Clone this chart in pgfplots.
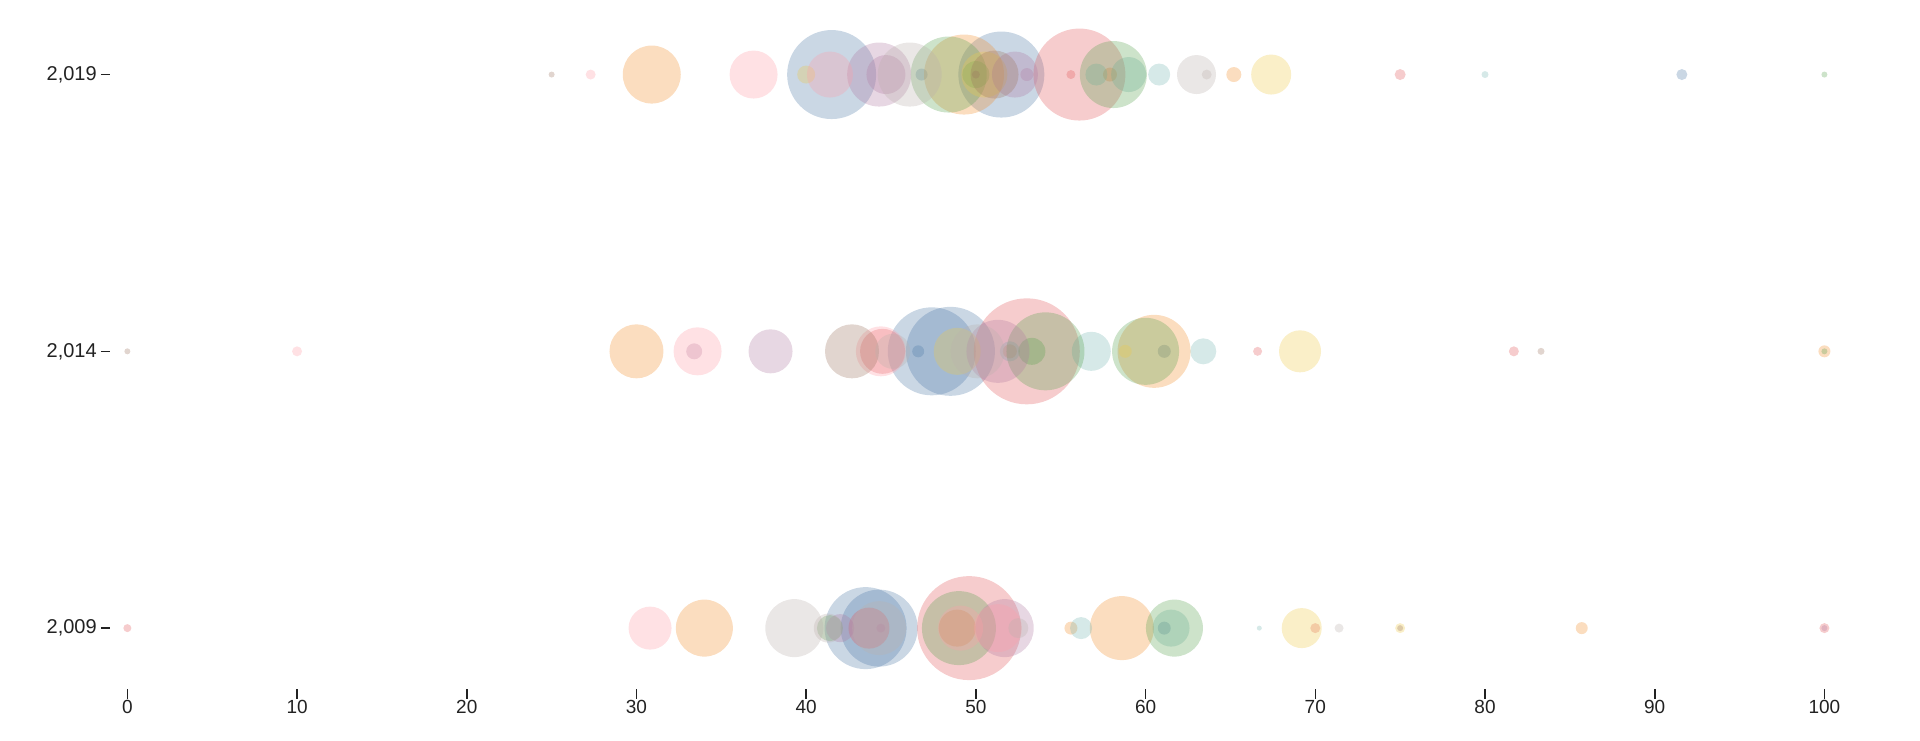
\documentclass[border=0pt]{standalone}
\usepackage{fontspec}
\setmainfont{Liberation Sans}
\usepackage{pgfplots}
\usepackage{pgfplotstable}
\pgfplotsset{compat=1.18}

\definecolor{tblue}{HTML}{4E79A7}
\definecolor{torange}{HTML}{F28E2B}
\definecolor{tred}{HTML}{E15759}
\definecolor{tteal}{HTML}{76B7B2}
\definecolor{tgreen}{HTML}{59A14F}
\definecolor{tyellow}{HTML}{EDC948}
\definecolor{tpurple}{HTML}{B07AA1}
\definecolor{tpink}{HTML}{FF9DA7}
\definecolor{tbrown}{HTML}{9C755F}
\definecolor{tgray}{HTML}{BAB0AC}
\definecolor{inkc}{HTML}{222222}

% x = value, y = year, r = radius in px
\pgfplotstableread{
x y r
41.5 2019 44.5
46.8 2019 6
51.5 2019 43
91.6 2019 5.5
47.4 2014 44
48.5 2014 44.5
46.6 2014 6
61.1 2014 6.5
43.5 2009 41
44.3 2009 38.5
61.1 2009 6.5
}\dblue
\pgfplotstableread{
x y r
30.9 2019 29
49.3 2019 40
57.9 2019 7
65.2 2019 7.5
30.0 2014 27
52.0 2014 7
60.5 2014 36.5
100 2014 6
34.0 2009 28.5
48.9 2009 18.5
55.6 2009 6.5
58.6 2009 32
85.7 2009 6
}\dorange
\pgfplotstableread{
x y r
56.1 2019 46
55.6 2019 4.5
75.0 2019 5.5
44.5 2014 22.5
53.0 2014 53
66.6 2014 4.5
81.7 2014 5
0 2009 4
43.7 2009 20.5
49.6 2009 52
70.0 2009 5
100 2009 5
}\dred
\pgfplotstableread{
x y r
59.0 2019 17.5
57.1 2019 11
60.8 2019 11
80.0 2019 3.5
52.0 2014 10
56.8 2014 19.5
63.4 2014 13
56.2 2009 11
61.5 2009 18.5
66.7 2009 2.5
}\dteal
\pgfplotstableread{
x y r
48.4 2019 38
50.0 2019 13.5
58.1 2019 33.5
100 2019 3
54.1 2014 39
53.3 2014 13.5
60.0 2014 33.5
100 2014 3
41.4 2009 13
49.0 2009 37
61.7 2009 28.5
}\dgreen
\pgfplotstableread{
x y r
40.0 2019 9
50.5 2019 23
67.4 2019 20
48.9 2014 23.5
58.8 2014 6.5
69.1 2014 21
69.2 2009 20
75 2009 5
}\dyellow
\pgfplotstableread{
x y r
44.3 2019 32
44.7 2019 19.5
52.3 2019 23
53.0 2019 6.5
33.4 2014 8
37.9 2014 22
51.3 2014 31.5
42.0 2009 14
44.4 2009 4.5
51.7 2009 29
100 2009 3
}\dpurple
\pgfplotstableread{
x y r
27.3 2019 5
36.9 2019 24
41.4 2019 23
10 2014 5
33.6 2014 24
44.4 2014 25
30.8 2009 21.5
49.1 2009 22.5
51.3 2009 24
}\dpink
\pgfplotstableread{
x y r
25.0 2019 3
51.1 2019 24
50.0 2019 4
0 2014 3
42.7 2014 27
83.3 2014 3.5
75 2009 3
}\dbrown
\pgfplotstableread{
x y r
46.1 2019 32
63.0 2019 19.5
63.6 2019 5
45.1 2014 17.5
50.1 2014 27
39.3 2009 29
41.3 2009 14.5
44.3 2009 27
52.5 2009 10
71.4 2009 4.5
}\dgray

\pgfplotsset{
  bub/.style={
    only marks, mark=*, scatter,
    scatter/use mapped color={draw opacity=0, fill=#1, fill opacity=0.3},
    visualization depends on={\thisrow{r}/2 \as \rad},
    scatter/@pre marker code/.append style={/tikz/mark size=\rad},
  },
}

\begin{document}
\begin{tikzpicture}
\useasboundingbox (0,0) rectangle (960pt,370pt);
\begin{axis}[
  scale only axis,
  width=857pt, height=334.9pt,
  at={(55.2pt,25.5pt)}, anchor=south west,
  xmin=-1, xmax=100, ymin=2007.9, ymax=2020,
  clip=false,
  axis x line*=bottom, axis y line*=left,
  axis line style={draw=none},
  xtick={0,10,...,100},
  ytick={2009,2014,2019},
  yticklabels={{2,009},{2,014},{2,019}},
  tick align=outside,
  major tick length=4.8pt,
  tick style={inkc, line width=0.8pt},
  ticklabel style={font=\fontsize{9.5}{11}\selectfont, text=inkc},
  yticklabel style={font=\fontsize{10}{12}\selectfont, xshift=1.5pt},
  /pgf/number format/assume math mode=true,
  xticklabel style={yshift=2.5pt},
]
\addplot[bub=tblue] table {\dblue};
\addplot[bub=torange] table {\dorange};
\addplot[bub=tred] table {\dred};
\addplot[bub=tteal] table {\dteal};
\addplot[bub=tgreen] table {\dgreen};
\addplot[bub=tyellow] table {\dyellow};
\addplot[bub=tpurple] table {\dpurple};
\addplot[bub=tpink] table {\dpink};
\addplot[bub=tbrown] table {\dbrown};
\addplot[bub=tgray] table {\dgray};
\end{axis}
\end{tikzpicture}
\end{document}
